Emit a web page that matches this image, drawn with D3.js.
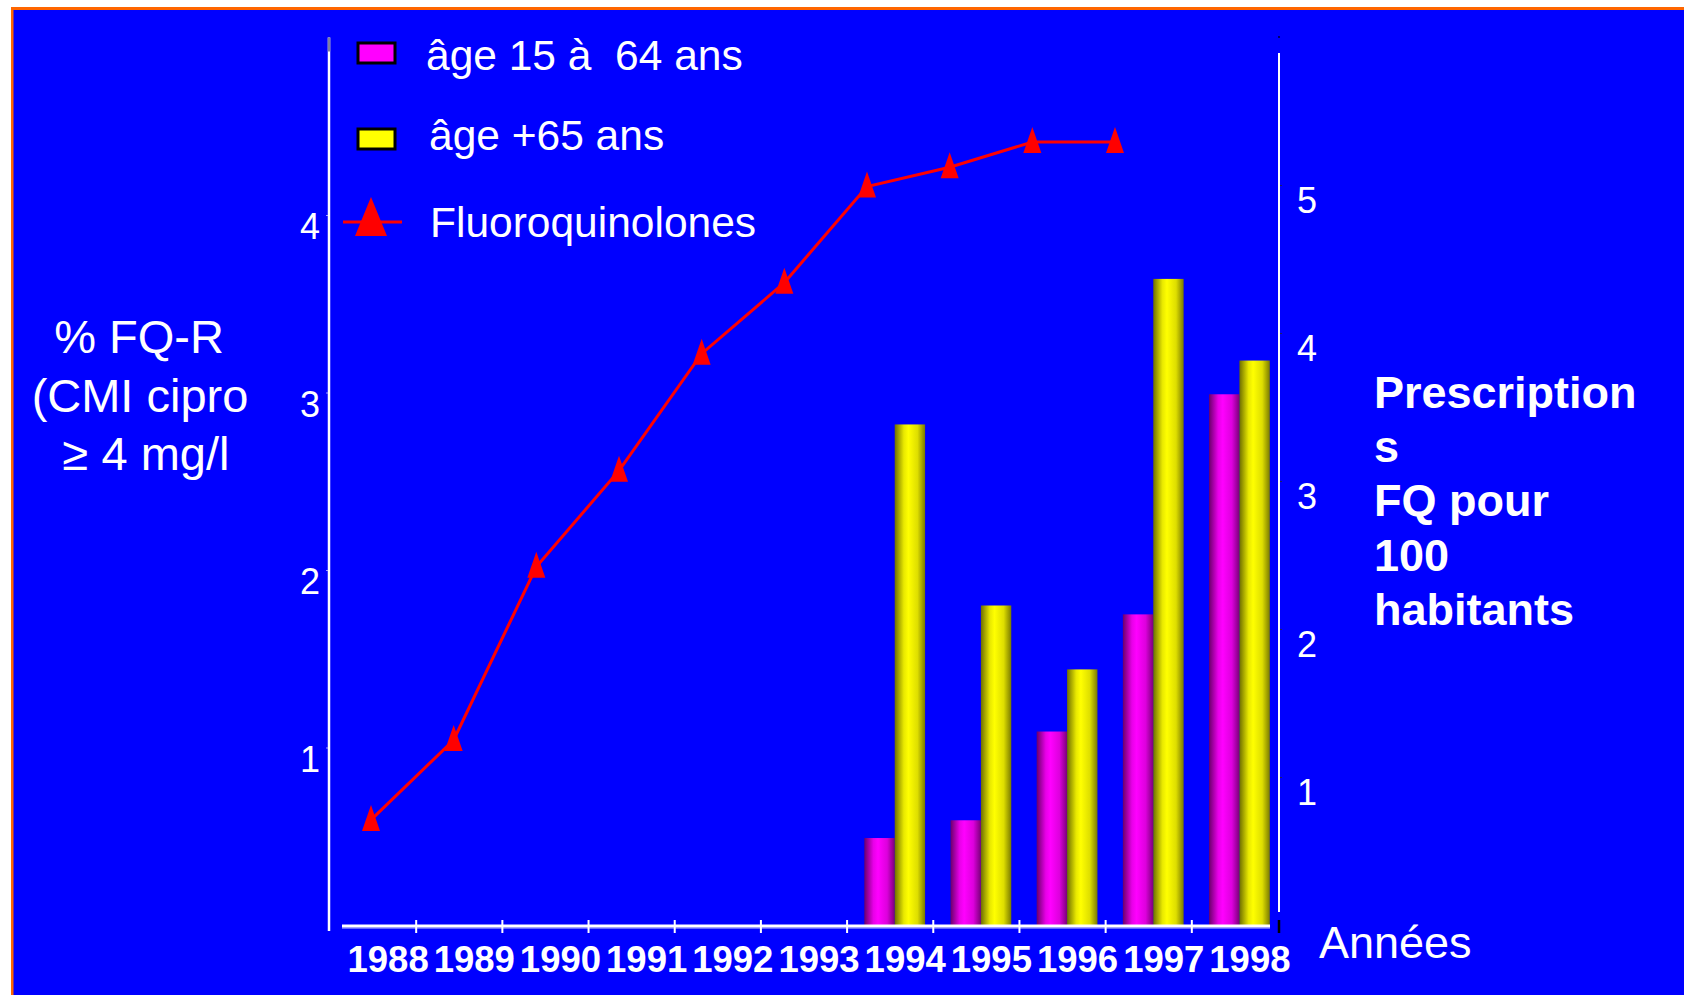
<!DOCTYPE html>
<html>
<head>
<meta charset="utf-8">
<script src="https://cdn.jsdelivr.net/npm/d3@7"></script>
<style>
  html, body { margin: 0; padding: 0; background: #ffffff; }
  svg { display: block; }
  text { font-family: "Liberation Sans", Arial, sans-serif; fill: #ffffff; }
</style>
</head>
<body>
<svg id="chart" width="1684" height="995"></svg>
<script>
// ---------- data ----------
const years = ["1988","1989","1990","1991","1992","1993","1994","1995","1996","1997","1998"];
const barYears = ["1994","1995","1996","1997","1998"];
const age15to64 = [0.49, 0.59, 1.09, 1.75, 2.99];   // % FQ-R, âge 15 à 64 ans
const age65plus = [2.82, 1.80, 1.44, 3.64, 3.18];   // % FQ-R, âge +65 ans
const lineYears = ["1988","1989","1990","1991","1992","1993","1994","1995","1996","1997"];
const fluoroquinolones = [0.71, 1.25, 2.42, 3.07, 3.86, 4.34, 4.99, 5.12, 5.29, 5.29]; // prescriptions / 100 hab.
const leftTicks = [1, 2, 3, 4];
const rightTicks = [1, 2, 3, 4, 5];
const seriesNames = ["âge 15 à  64 ans", "âge +65 ans", "Fluoroquinolones"];
const leftTitle = ["% FQ-R", "(CMI cipro", "≥ 4 mg/l"];
const rightTitle = ["Prescription", "s", "FQ pour", "100", "habitants"];
const xTitle = "Années";

// ---------- setup ----------
const svg = d3.select("#chart");
const W = 1684, H = 995;
const FONT = "'Liberation Sans', Arial, sans-serif";

// frame
svg.append("rect").attr("x", 11).attr("y", 7).attr("width", W).attr("height", H)
  .attr("fill", "#ff6600");
svg.append("rect").attr("x", 13.5).attr("y", 10).attr("width", W).attr("height", H)
  .attr("fill", "#0000ff");

// gradients (cylinder shading)
const defs = svg.append("defs");
function grad(id, stops) {
  const g = defs.append("linearGradient").attr("id", id)
    .attr("x1", "0%").attr("x2", "100%").attr("y1", "0%").attr("y2", "0%");
  stops.forEach(s => g.append("stop").attr("offset", s[0]).attr("stop-color", s[1]));
}
grad("gMag", [["0%", "#6a006a"], ["30%", "#e800e8"], ["45%", "#ff00ff"], ["75%", "#dd00dd"], ["100%", "#7a007a"]]);
grad("gYel", [["0%", "#6e6e00"], ["30%", "#e8e800"], ["45%", "#ffff00"], ["75%", "#dede00"], ["100%", "#7a7a00"]]);

// ---------- scales ----------
const x = d3.scaleBand().domain(years).range([330, 1278]).padding(0);
const xSub = d3.scaleBand().domain(["m", "y"])
  .range([x.bandwidth() * 0.2, x.bandwidth() * 0.905]).padding(0);
const yL = d3.scaleLinear().domain([0, 5]).range([925, 37.5]);
const yR = d3.scaleLinear().domain([0, 6]).range([925, 37]);
const xLine = d3.scalePoint().domain(lineYears).range([371, 1115]);

// ---------- bars ----------
const barData = barYears.map((yr, i) => ({ year: yr, m: age15to64[i], y: age65plus[i] }));
const groups = svg.append("g").selectAll("g").data(barData).join("g")
  .attr("transform", d => `translate(${x(d.year)},0)`);
groups.append("rect")
  .attr("x", xSub("m")).attr("width", xSub.bandwidth())
  .attr("y", d => yL(d.m)).attr("height", d => yL(0) - yL(d.m))
  .attr("fill", "url(#gMag)");
groups.append("rect")
  .attr("x", xSub("y")).attr("width", xSub.bandwidth())
  .attr("y", d => yL(d.y)).attr("height", d => yL(0) - yL(d.y))
  .attr("fill", "url(#gYel)");

// ---------- axes ----------
// left axis
const gL = svg.append("g").attr("transform", "translate(329,0)")
  .call(d3.axisLeft(yL).tickValues(leftTicks).tickSize(3).tickPadding(6).tickFormat(d3.format("d")));
gL.select(".domain").remove();
gL.selectAll(".tick line").attr("stroke", "#9a9aff").attr("stroke-width", 1);
gL.selectAll(".tick text").attr("font-family", FONT).attr("font-size", 36)
  .attr("fill", "#fff").attr("dy", "0.32em").attr("y", 12);
svg.append("line").attr("x1", 329).attr("x2", 329).attr("y1", yL(5)).attr("y2", 931)
  .attr("stroke", "#ffffff").attr("stroke-width", 2.5);
svg.append("line").attr("x1", 329).attr("x2", 329).attr("y1", yL(5)).attr("y2", yL(5) + 14)
  .attr("stroke", "#8080a0").attr("stroke-width", 2.5);

// right axis
const gR = svg.append("g").attr("transform", "translate(1279,0)")
  .call(d3.axisRight(yR).tickValues(rightTicks).tickSize(3).tickPadding(15).tickFormat(d3.format("d")));
gR.select(".domain").remove();
gR.selectAll(".tick line").attr("stroke", "#202060").attr("stroke-width", 1);
gR.selectAll(".tick text").attr("font-family", FONT).attr("font-size", 36)
  .attr("fill", "#fff").attr("dy", "0.32em").attr("y", 16);
svg.append("line").attr("x1", 1279).attr("x2", 1279).attr("y1", 53).attr("y2", 912)
  .attr("stroke", "#ffffff").attr("stroke-width", 2);
svg.append("line").attr("x1", 1279).attr("x2", 1279).attr("y1", 920).attr("y2", 933)
  .attr("stroke", "#000000").attr("stroke-width", 2.5);
svg.append("circle").attr("cx", 1279).attr("cy", yR(6)).attr("r", 1).attr("fill", "#000033");

// bottom axis
svg.append("line").attr("x1", 342).attr("x2", 1270).attr("y1", 926).attr("y2", 926)
  .attr("stroke", "#ffffff").attr("stroke-width", 3);
svg.append("line").attr("x1", 342).attr("x2", 1270).attr("y1", 928).attr("y2", 928)
  .attr("stroke", "#c8c8ff").attr("stroke-width", 1);
svg.append("g").selectAll("line").data(years.slice(1)).join("line")
  .attr("x1", d => x(d)).attr("x2", d => x(d)).attr("y1", 920).attr("y2", 933)
  .attr("stroke", "#ffffff").attr("stroke-width", 2);
const gB = svg.append("g").attr("transform", "translate(0,926)")
  .call(d3.axisBottom(x).tickSize(0).tickPadding(0));
gB.select(".domain").remove();
gB.selectAll(".tick text").attr("font-family", FONT).attr("font-size", 36.5)
  .attr("font-weight", "bold").attr("fill", "#fff")
  .attr("dy", null).attr("x", 15).attr("y", 46);

// ---------- line ----------
const lineData = lineYears.map((yr, i) => ({ year: yr, v: fluoroquinolones[i] }));
svg.append("path").datum(lineData)
  .attr("d", d3.line().x(d => xLine(d.year)).y(d => yR(d.v)))
  .attr("fill", "none").attr("stroke", "#ff0000").attr("stroke-width", 3);
svg.append("g").selectAll("path").data(lineData).join("path")
  .attr("transform", d => `translate(${xLine(d.year)},${yR(d.v)})`)
  .attr("d", "M0,-15 L9,11 L-9,11 Z")
  .attr("fill", "#ff0000");

// ---------- legend ----------
const lg = svg.append("g");
lg.append("rect").attr("x", 358).attr("y", 43).attr("width", 37).attr("height", 20)
  .attr("fill", "#ff00ff").attr("stroke", "#000").attr("stroke-width", 3);
lg.append("rect").attr("x", 358).attr("y", 129).attr("width", 37).attr("height", 20)
  .attr("fill", "#ffff00").attr("stroke", "#000").attr("stroke-width", 3);
lg.append("line").attr("x1", 343).attr("x2", 402).attr("y1", 222).attr("y2", 222)
  .attr("stroke", "#ff0000").attr("stroke-width", 3);
lg.append("path").attr("transform", "translate(371,222)")
  .attr("d", "M0,-25 L16,14 L-16,14 Z").attr("fill", "#ff0000");
const legendBaselines = [70, 150, 237];
const legendX = [426, 429, 430];
lg.selectAll("text.leg").data(seriesNames).join("text").attr("class", "leg")
  .attr("x", (d, i) => legendX[i]).attr("y", (d, i) => legendBaselines[i])
  .attr("font-size", 42.5).attr("xml:space", "preserve").style("white-space", "pre")
  .text(d => d);

// ---------- titles ----------
const leftX = [139, 140, 146];
svg.append("g").selectAll("text").data(leftTitle).join("text")
  .attr("x", (d, i) => leftX[i]).attr("y", (d, i) => 353 + i * 58.5)
  .attr("text-anchor", "middle").attr("font-size", 47).text(d => d);

svg.append("g").selectAll("text").data(rightTitle).join("text")
  .attr("x", 1374).attr("y", (d, i) => 408 + i * 54.2)
  .attr("font-size", 45).attr("font-weight", "bold").text(d => d);

svg.append("text").attr("x", 1319).attr("y", 958).attr("font-size", 45).text(xTitle);
</script>
</body>
</html>
